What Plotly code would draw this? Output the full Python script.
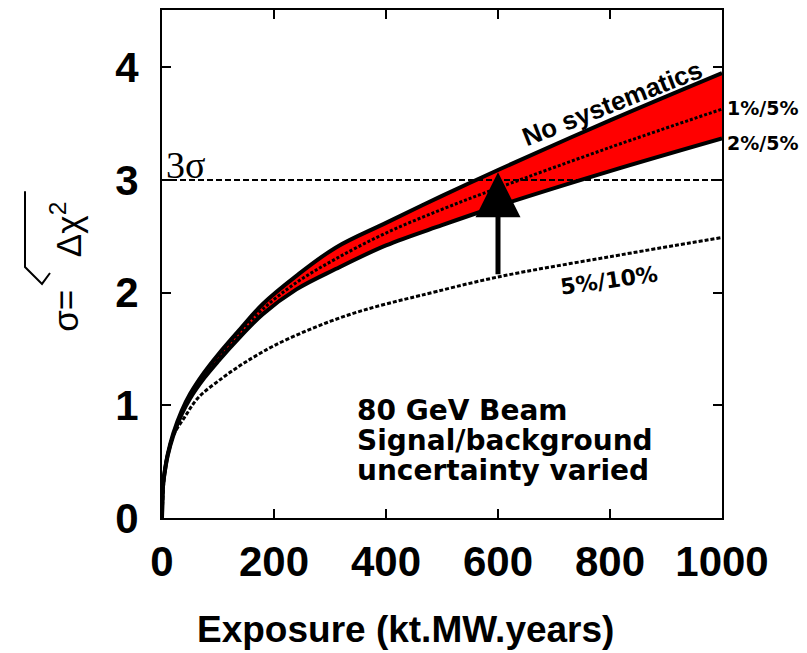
import plotly.graph_objects as go

# ---- data ----
band_x = [0, 2, 5, 10, 20, 35, 50, 75, 100, 140, 180, 240, 310, 400, 500, 600, 800, 1000]
no_syst = [0, 0.30, 0.42, 0.56, 0.75, 0.95, 1.10, 1.29, 1.45, 1.68, 1.90, 2.15, 2.40, 2.62, 2.86, 3.09, 3.53, 3.95]
syst_1_5 = [0, 0.30, 0.415, 0.555, 0.74, 0.935, 1.08, 1.265, 1.42, 1.645, 1.855, 2.09, 2.30, 2.53, 2.74, 2.93, 3.29, 3.63]
syst_2_5 = [0, 0.30, 0.41, 0.55, 0.73, 0.92, 1.06, 1.24, 1.39, 1.61, 1.81, 2.03, 2.21, 2.42, 2.60, 2.77, 3.08, 3.37]

low_x = [0, 5, 10, 20, 41, 65, 107, 140, 166, 200, 250, 300, 350, 400, 461, 600, 800, 1000]
syst_5_10 = [0, 0.42, 0.56, 0.73, 0.90, 1.07, 1.24, 1.355, 1.435, 1.53, 1.645, 1.745, 1.83, 1.90, 1.975, 2.14, 2.32, 2.49]

x_ticks = [0, 200, 400, 600, 800, 1000]
y_ticks = [0, 1, 2, 3, 4]
three_sigma = 3
arrow_x = 600
arrow_from = 2.15
arrow_to = 3.07

# plot area in pixels (for placing text outside the axes)
PL, PR, PT, PB = 162, 722, 8, 518


def px(xp):
    return (xp - PL) / (PR - PL)


def py(yp):
    return (PB - yp) / (PB - PT)


fig = go.Figure()

# red band between no-systematics and 2%/5%
fig.add_trace(go.Scatter(
    x=band_x + band_x[::-1], y=no_syst + syst_2_5[::-1],
    fill="toself", fillcolor="#ff0000", line=dict(width=0),
    mode="lines", hoverinfo="skip", showlegend=False))

# 3 sigma line
fig.add_trace(go.Scatter(x=[0, 1000], y=[three_sigma, three_sigma], mode="lines",
                         line=dict(color="black", width=2, dash="6px,3px"), showlegend=False))

fig.add_trace(go.Scatter(x=band_x, y=syst_2_5, mode="lines", line_shape="spline",
                         line=dict(color="black", width=4), showlegend=False))
fig.add_trace(go.Scatter(x=band_x, y=no_syst, mode="lines", line_shape="spline",
                         line=dict(color="black", width=4), showlegend=False))
fig.add_trace(go.Scatter(x=band_x, y=syst_1_5, mode="lines", line_shape="spline",
                         line=dict(color="black", width=3, dash="3px,2px"), showlegend=False))
fig.add_trace(go.Scatter(x=low_x, y=syst_5_10, mode="lines", line_shape="spline",
                         line=dict(color="black", width=3, dash="4px,2px"), showlegend=False))

ann = []
# arrow
ann.append(dict(x=arrow_x, y=arrow_to, ax=arrow_x, ay=arrow_from, xref="x", yref="y",
                axref="x", ayref="y", text="", showarrow=True, arrowhead=2,
                arrowwidth=5, arrowsize=1.8, arrowcolor="black", standoff=0, startstandoff=0))

ann.append(dict(x=805, y=3.68, xref="x", yref="y", text="No systematics", showarrow=False,
                xanchor="center", yanchor="middle", textangle=-21.5,
                font=dict(family="Liberation Sans", size=26, color="black", weight="bold")))
ann.append(dict(x=1.005, y=3.64, xref="paper", yref="y", text="1%/5%", showarrow=False,
                xanchor="left", yanchor="middle",
                font=dict(family="DejaVu Sans", size=19, color="black", weight="bold")))
ann.append(dict(x=1.005, y=3.33, xref="paper", yref="y", text="2%/5%", showarrow=False,
                xanchor="left", yanchor="middle",
                font=dict(family="DejaVu Sans", size=19, color="black", weight="bold")))
ann.append(dict(x=798, y=2.11, xref="x", yref="y", text="5%/10%", showarrow=False,
                xanchor="center", yanchor="middle", textangle=-8,
                font=dict(family="DejaVu Sans", size=22, color="black", weight="bold")))
ann.append(dict(x=3, y=3.13, xref="x", yref="y", text="3σ", showarrow=False,
                xanchor="left", yanchor="middle", font=dict(family="Liberation Serif", size=38, color="black")))

box_lines = ["80 GeV Beam", "Signal/background", "uncertainty varied"]
box_y = [0.956, 0.69, 0.425]
for t, yy in zip(box_lines, box_y):
    ann.append(dict(x=345, y=yy, xref="x", yref="y", text=t, showarrow=False,
                    xanchor="left", yanchor="middle",
                    font=dict(family="DejaVu Sans", size=28, color="black", weight="bold")))

# axis titles
ann.append(dict(x=px(405), y=py(630), xref="paper", yref="paper", text="Exposure (kt.MW.years)",
                xanchor="center", yanchor="middle", showarrow=False,
                font=dict(family="Liberation Sans", size=37, color="black", weight="bold")))
ann.append(dict(x=px(66), y=py(310), xref="paper", yref="paper", text="σ=",
                xanchor="center", yanchor="middle", showarrow=False, textangle=-90,
                font=dict(family="Liberation Sans", size=35, color="black")))
ann.append(dict(x=px(66), y=py(229), xref="paper", yref="paper", text="Δχ<sup>2</sup>",
                xanchor="center", yanchor="middle", showarrow=False, textangle=-90,
                font=dict(family="Liberation Sans", size=35, color="black")))

# radical sign (square root) drawn as a path in paper coordinates
rad = [(25, 190), (25, 266), (42, 283), (50, 272)]
path = "M " + " L ".join(f"{px(a):.5f},{py(b):.5f}" for a, b in rad)

fig.update_layout(
    width=807, height=653,
    margin=dict(l=PL, r=807 - PR, t=PT, b=653 - PB),
    paper_bgcolor="white", plot_bgcolor="white",
    annotations=ann,
    shapes=[dict(type="path", xref="paper", yref="paper", path=path,
                 line=dict(color="black", width=2))],
)
fig.update_xaxes(range=[0, 1000], tickvals=x_ticks, ticks="inside", ticklen=9, tickwidth=2,
                 tickcolor="black", showline=True, linecolor="black", linewidth=2, mirror="ticks",
                 showgrid=False, zeroline=False, ticklabelstandoff=6,
                 tickfont=dict(family="Liberation Sans", size=42, color="black", weight="bold"))
fig.update_yaxes(range=[0, 4.51], tickvals=y_ticks, ticks="inside", ticklen=9, tickwidth=2,
                 tickcolor="black", showline=True, linecolor="black", linewidth=2, mirror="ticks",
                 showgrid=False, zeroline=False, ticklabelstandoff=13,
                 tickfont=dict(family="Liberation Sans", size=42, color="black", weight="bold"))

fig.write_html("out.html")
